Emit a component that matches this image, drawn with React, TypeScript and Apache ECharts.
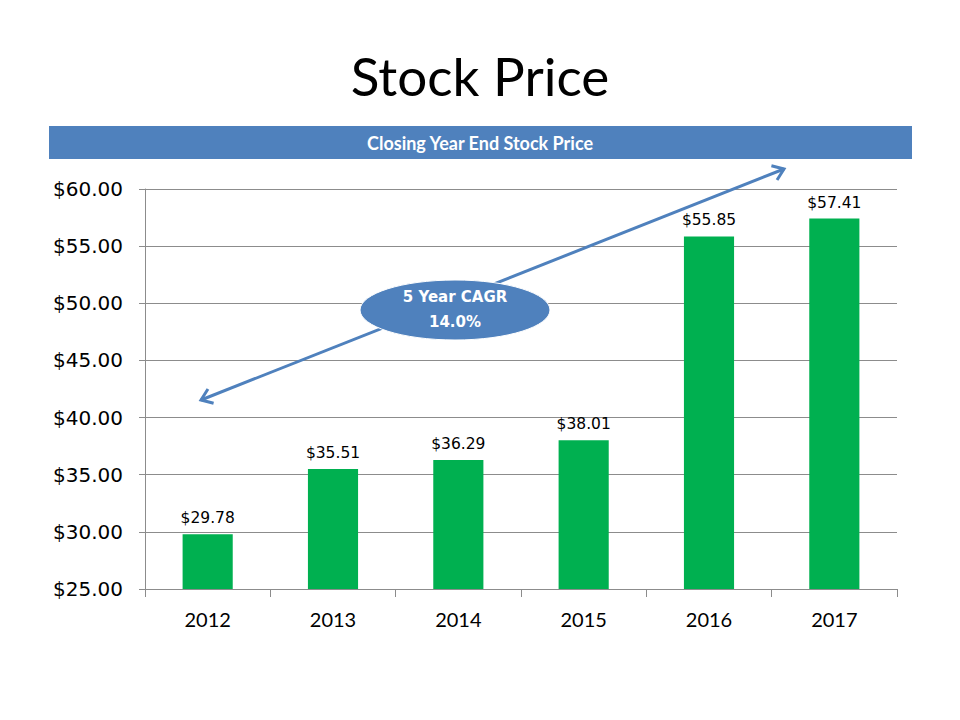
import React, { useEffect, useRef } from "react";
import * as echarts from "echarts";

const years = ["2012", "2013", "2014", "2015", "2016", "2017"];
const prices = [29.78, 35.51, 36.29, 38.01, 55.85, 57.41];
const yMin = 25;
const yMax = 60;
const yStep = 5;
const chartTitle = "Stock Price";
const bannerText = "Closing Year End Stock Price";
const cagrLines = ["5 Year CAGR", "14.0%"];

const BLUE = "#4F81BD";
const GREEN = "#00B050";
const GRAY = "#8C8C8C";

function arrowHead(tip: number[], from: number[], len: number, ang: number) {
  const dx = from[0] - tip[0];
  const dy = from[1] - tip[1];
  const d = Math.hypot(dx, dy);
  const ux = dx / d;
  const uy = dy / d;
  const rot = (a: number) => [
    tip[0] + len * (ux * Math.cos(a) - uy * Math.sin(a)),
    tip[1] + len * (ux * Math.sin(a) + uy * Math.cos(a)),
  ];
  return [rot(ang), tip, rot(-ang)];
}

export default function App() {
  const ref = useRef<HTMLDivElement>(null);
  useEffect(() => {
    if (!ref.current) return;
    const chart = echarts.init(ref.current, undefined, { renderer: "svg" });
    const p1 = [201, 400];
    const p2 = [784, 169];
    chart.setOption({
      animation: false,
      backgroundColor: "#ffffff",
      title: {
        text: chartTitle,
        left: "center",
        top: 44,
        textStyle: { fontFamily: "Lato", fontSize: 53, fontWeight: "normal", color: "#000" },
      },
      grid: { left: 145, right: 63, top: 189, bottom: 131 },
      xAxis: {
        type: "category",
        data: years,
        axisLine: { lineStyle: { color: GRAY, width: 1 } },
        axisTick: { show: true, length: 8, lineStyle: { color: GRAY } },
        axisLabel: { color: "#000", fontFamily: "Lato", fontSize: 20, margin: 20 },
      },
      yAxis: {
        type: "value",
        min: yMin,
        max: yMax,
        interval: yStep,
        axisLine: { show: true, lineStyle: { color: GRAY, width: 1 } },
        axisTick: { show: true, length: 6, lineStyle: { color: GRAY } },
        splitLine: { show: true, lineStyle: { color: GRAY, width: 1 } },
        axisLabel: {
          color: "#000",
          fontFamily: "DejaVu Sans",
          fontSize: 20,
          margin: 22,
          formatter: (v: number) => "$" + v.toFixed(2),
        },
      },
      series: [
        {
          type: "bar",
          data: prices,
          barWidth: "40%",
          itemStyle: { color: GREEN },
          label: {
            show: true,
            position: "top",
            distance: 8,
            color: "#000",
            fontFamily: "DejaVu Sans",
            fontSize: 15.5,
            formatter: (p: any) => "$" + Number(p.value).toFixed(2),
          },
        },
      ],
      graphic: [
        {
          type: "rect",
          shape: { x: 49, y: 126, width: 863, height: 33 },
          style: { fill: BLUE },
        },
        {
          type: "text",
          x: 480,
          y: 143,
          style: {
            text: bannerText,
            fill: "#fff",
            font: "bold 18px Lato",
            textAlign: "center",
            textVerticalAlign: "middle",
          },
        },
        {
          type: "line",
          shape: { x1: p1[0], y1: p1[1], x2: p2[0], y2: p2[1] },
          style: { stroke: BLUE, lineWidth: 3 },
          z: 10,
        },
        {
          type: "polyline",
          shape: { points: arrowHead(p1, p2, 13, Math.PI / 5) },
          style: { stroke: BLUE, lineWidth: 3, fill: null },
          z: 10,
        },
        {
          type: "polyline",
          shape: { points: arrowHead(p2, p1, 13, Math.PI / 5) },
          style: { stroke: BLUE, lineWidth: 3, fill: null },
          z: 10,
        },
        {
          type: "ellipse",
          shape: { cx: 455, cy: 310, rx: 95, ry: 30 },
          style: { fill: BLUE, stroke: "#ffffff", lineWidth: 1 },
          z: 11,
        },
        {
          type: "text",
          x: 455,
          y: 297,
          z: 12,
          style: {
            text: cagrLines[0],
            fill: "#fff",
            font: "bold 15px 'DejaVu Sans'",
            textAlign: "center",
            textVerticalAlign: "middle",
          },
        },
        {
          type: "text",
          x: 455,
          y: 322,
          z: 12,
          style: {
            text: cagrLines[1],
            fill: "#fff",
            font: "bold 15px 'DejaVu Sans'",
            textAlign: "center",
            textVerticalAlign: "middle",
          },
        },
      ],
    });
    return () => chart.dispose();
  }, []);
  return (
    <div
      ref={ref}
      style={{ position: "absolute", left: 0, top: 0, width: 960, height: 720 }}
    />
  );
}
